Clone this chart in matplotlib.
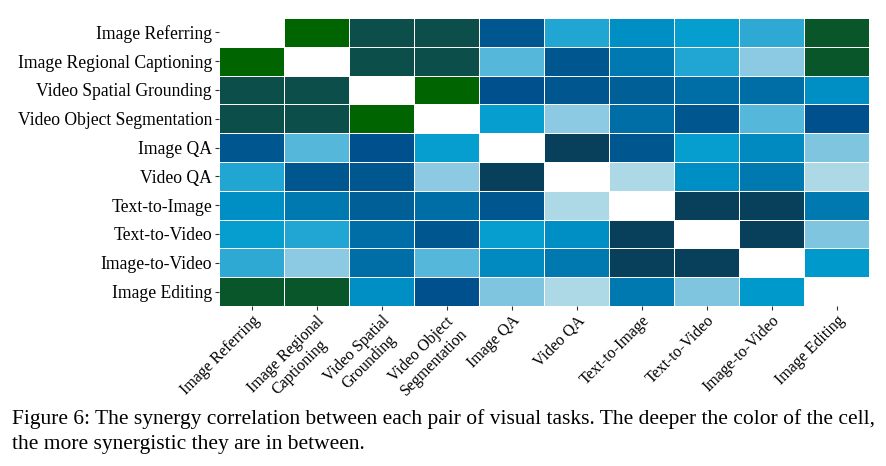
import numpy as np
import matplotlib.pyplot as plt
from matplotlib.colors import ListedColormap, BoundaryNorm

tasks = ["Image Referring", "Image Regional Captioning", "Video Spatial Grounding",
         "Video Object Segmentation", "Image QA", "Video QA", "Text-to-Image",
         "Text-to-Video", "Image-to-Video", "Image Editing"]
x_labels = ["Image Referring", "Image Regional\nCaptioning", "Video Spatial\nGrounding",
            "Video Object\nSegmentation", "Image QA", "Video QA", "Text-to-Image",
            "Text-to-Video", "Image-to-Video", "Image Editing"]

# synergy level of each pair (0 = diagonal, higher = deeper colour)
levels = [
    [0, 19, 17, 17, 14, 6, 9, 7, 5, 18],
    [19, 0, 17, 17, 4, 14, 11, 6, 2, 18],
    [17, 17, 0, 19, 15, 14, 13, 12, 12, 9],
    [17, 17, 19, 0, 7, 2, 12, 14, 4, 15],
    [14, 4, 15, 7, 0, 16, 14, 7, 10, 3],
    [6, 14, 14, 2, 16, 0, 1, 9, 11, 1],
    [9, 11, 13, 12, 14, 1, 0, 16, 16, 11],
    [7, 6, 12, 14, 7, 9, 16, 0, 16, 3],
    [5, 2, 12, 4, 10, 11, 16, 16, 0, 8],
    [18, 18, 9, 15, 3, 1, 11, 3, 8, 0],
]

palette = ["#ffffff", "#add8e6", "#8bcae2", "#7fc5e0", "#55b8db", "#2da9d4",
           "#21a6d4", "#069ecf", "#0099cc", "#008fc4", "#008ac0", "#0079b1",
           "#006ea6", "#005f96", "#00568f", "#00508e", "#083f5a", "#0c4e4a",
           "#08562a", "#006400"]

plt.rcParams['font.family'] = ['Liberation Serif', 'DejaVu Serif']

fig = plt.figure(figsize=(8.86, 4.66), dpi=100)
ax = fig.add_axes([219 / 886, 1 - 306 / 466, 650 / 886, 288 / 466])

cmap = ListedColormap(palette)
norm = BoundaryNorm(np.arange(len(palette) + 1) - 0.5, cmap.N)
data = np.array(levels)
ax.pcolormesh(data, cmap=cmap, norm=norm, edgecolors="white", linewidth=0.6)
ax.set_xlim(0, len(tasks))
ax.set_ylim(len(tasks), 0)

ax.set_xticks(np.arange(len(tasks)) + 0.5)
ax.set_xticklabels(x_labels, rotation=45, ha="right", rotation_mode="anchor",
                   multialignment="center", fontsize=11.5)
ax.set_yticks(np.arange(len(tasks)) + 0.5)
ax.set_yticklabels(tasks, fontsize=12.7)
ax.tick_params(length=3, width=0.8, color="#333333", pad=2)
for s in ax.spines.values():
    s.set_visible(False)

fig.text(12 / 886, 1 - 419 / 466,
         "Figure 6: The synergy correlation between each pair of visual tasks. "
         "The deeper the color of the cell,", fontsize=15.5, va="center")
fig.text(12 / 886, 1 - 445 / 466,
         "the more synergistic they are in between.", fontsize=15.5, va="center")

fig.savefig("out.png", dpi=100)
